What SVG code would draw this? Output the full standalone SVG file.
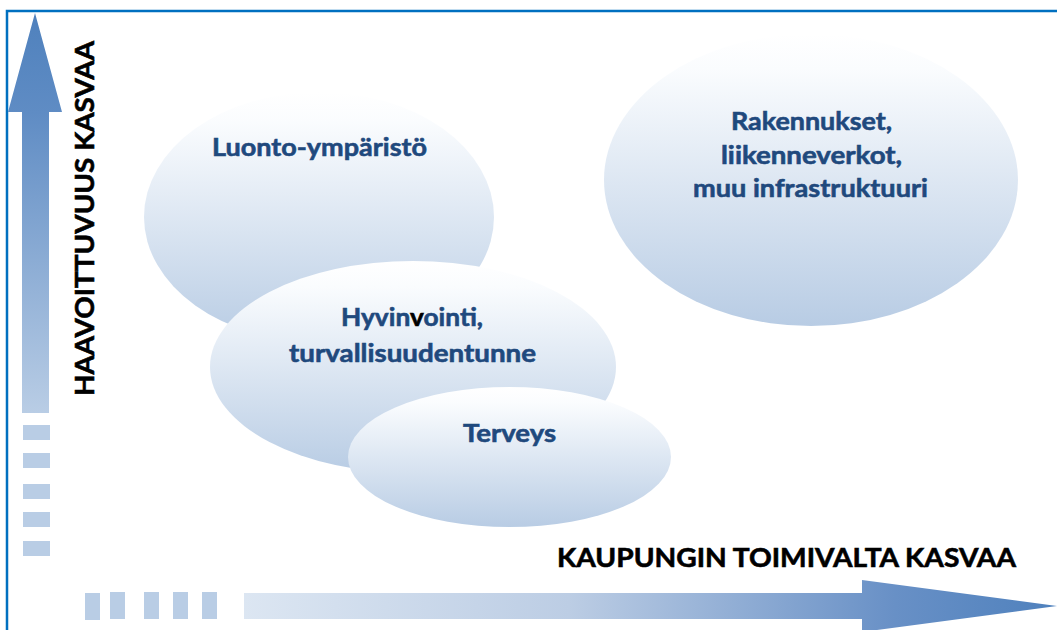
<svg xmlns="http://www.w3.org/2000/svg" width="1057" height="630" viewBox="0 0 1057 630">
  <defs>
    <linearGradient id="gEll" x1="0" y1="0" x2="0" y2="1">
      <stop offset="0" stop-color="#ffffff"/>
      <stop offset="0.12" stop-color="#fafcfe"/>
      <stop offset="1" stop-color="#b8cce4"/>
    </linearGradient>
    <linearGradient id="gUp" gradientUnits="userSpaceOnUse" x1="0" y1="13" x2="0" y2="413">
      <stop offset="0" stop-color="#4f81bd"/>
      <stop offset="0.25" stop-color="#5f8cc4"/>
      <stop offset="1" stop-color="#b9cde5"/>
    </linearGradient>
    <linearGradient id="gRight" gradientUnits="userSpaceOnUse" x1="244" y1="0" x2="1057" y2="0">
      <stop offset="0" stop-color="#dce6f2"/>
      <stop offset="0.4" stop-color="#bccde4"/>
      <stop offset="0.8" stop-color="#6890c6"/>
      <stop offset="1" stop-color="#4f81bd"/>
    </linearGradient>
  </defs>
  <style>
    .ell { fill: url(#gEll); }
    .lbl { font-family: Lato, "Open Sans", "Liberation Sans", sans-serif; font-weight: 700; font-size: 25px; fill: #1f497d; stroke: #1f497d; stroke-width: 0.6px; text-anchor: middle; }
    .axis { font-family: Lato, "Open Sans", "Liberation Sans", sans-serif; font-weight: 700; font-size: 26.5px; fill: #000000; stroke: #000000; stroke-width: 0.6px; text-anchor: middle; }
    .dash { fill: #b9cde5; }
    .blk { fill: #000000; stroke: #000000; }
  </style>

  <rect x="0" y="0" width="1057" height="630" fill="#ffffff"/>
  <rect id="frame" x="7" y="11" width="1070" height="650" fill="none" stroke="#0070c0" stroke-width="2.5"/>

  <g id="axes">
    <path d="M35,13 L62,112 L49,112 L49,413 L22,413 L22,112 L8,112 Z" fill="url(#gUp)"/>
    <rect class="dash" x="23" y="425" width="27" height="15"/>
    <rect class="dash" x="23" y="453" width="27" height="15"/>
    <rect class="dash" x="23" y="484" width="27" height="15"/>
    <rect class="dash" x="23" y="512" width="27" height="15"/>
    <rect class="dash" x="23" y="541" width="27" height="15"/>
    <path d="M244,593 L862,593 L862,580 L1057,606 L862,632 L862,619 L244,619 Z" fill="url(#gRight)"/>
    <rect class="dash" x="85" y="593" width="15" height="27"/>
    <rect class="dash" x="110" y="592" width="15" height="27"/>
    <rect class="dash" x="144" y="592" width="15" height="27"/>
    <rect class="dash" x="173" y="592" width="15" height="27"/>
    <rect class="dash" x="202" y="592" width="15" height="27"/>
    <text class="axis" transform="translate(94,218.5) rotate(-90)" x="0" y="0" textLength="355" lengthAdjust="spacingAndGlyphs">HAAVOITTUVUUS KASVAA</text>
    <text class="axis" x="786.5" y="567" textLength="459" lengthAdjust="spacingAndGlyphs">KAUPUNGIN TOIMIVALTA KASVAA</text>
  </g>

  <g id="node-luonto">
    <ellipse class="ell" cx="319" cy="217" rx="175" ry="125"/>
    <text class="lbl" x="319.5" y="156" textLength="215" lengthAdjust="spacingAndGlyphs">Luonto-ympäristö</text>
  </g>

  <g id="node-rakennukset">
    <ellipse class="ell" cx="811" cy="180" rx="207" ry="146"/>
    <text class="lbl" x="811.5" y="130" textLength="161" lengthAdjust="spacingAndGlyphs">Rakennukset,</text>
    <text class="lbl" x="811.5" y="163.5" textLength="181" lengthAdjust="spacingAndGlyphs">liikenneverkot,</text>
    <text class="lbl" x="810.5" y="197" textLength="235" lengthAdjust="spacingAndGlyphs">muu infrastruktuuri</text>
  </g>

  <g id="node-hyvinvointi">
    <ellipse class="ell" cx="413" cy="367" rx="203" ry="106"/>
    <text class="lbl" x="412" y="326" textLength="142" lengthAdjust="spacingAndGlyphs">Hyvin<tspan class="blk">v</tspan>ointi,</text>
    <text class="lbl" x="412.5" y="362" textLength="247" lengthAdjust="spacingAndGlyphs">turvallisuudentunne</text>
  </g>

  <g id="node-terveys">
    <ellipse class="ell" cx="509.5" cy="457" rx="161.5" ry="70"/>
    <text class="lbl" x="509.5" y="442" textLength="93" lengthAdjust="spacingAndGlyphs">Terveys</text>
  </g>
</svg>
